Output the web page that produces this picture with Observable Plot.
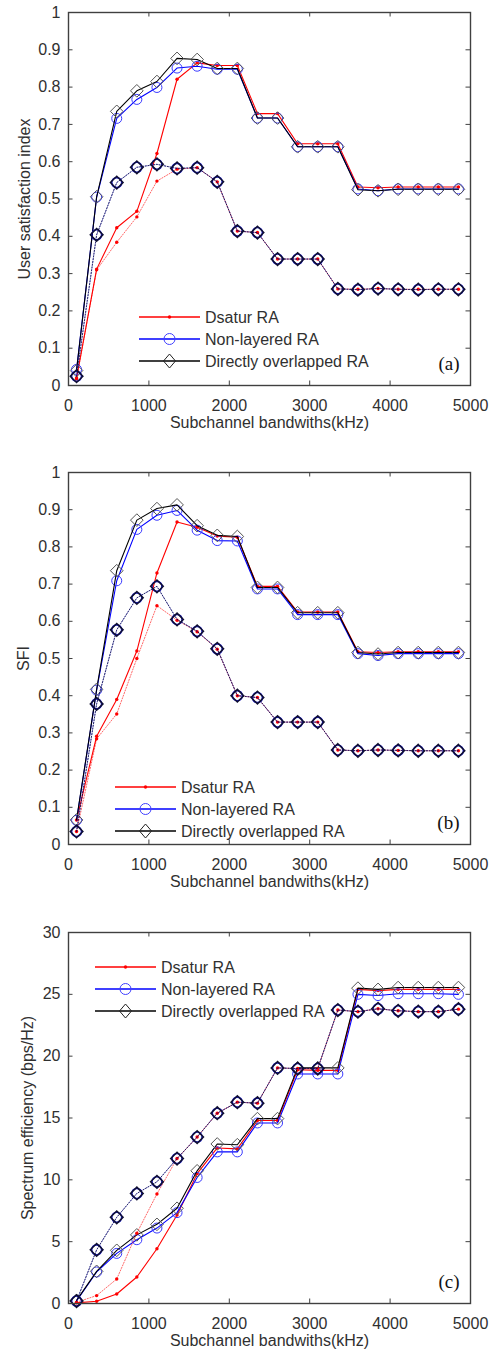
<!DOCTYPE html>
<html>
<head>
<meta charset="utf-8">
<script src="https://cdn.jsdelivr.net/npm/d3@7"></script>
<script src="https://cdn.jsdelivr.net/npm/@observablehq/plot@0.6"></script>
<style>
  body { margin: 0; background: white; }
  #root { width: 494px; height: 1355px; position: relative; }
  #root svg { display: block; }
</style>
</head>
<body>
<div id="root"></div>
<script>
// ---------- data ----------
const bandwidths = [100, 350, 600, 850, 1100, 1350, 1600, 1850, 2100, 2350, 2600, 2850, 3100, 3350, 3600, 3850, 4100, 4350, 4600, 4850];
const xTicks = [0, 1000, 2000, 3000, 4000, 5000];
const seriesNames = ["Dsatur RA", "Non-layered RA", "Directly overlapped RA"];
const xLabel = "Subchannel bandwiths(kHz)";

// (a) User satisfaction index — solid group
const aDsatur      = [0.020, 0.312, 0.423, 0.467, 0.622, 0.821, 0.865, 0.858, 0.858, 0.729, 0.729, 0.648, 0.648, 0.648, 0.532, 0.530, 0.532, 0.532, 0.532, 0.532];
const aNonLayered  = [0.043, 0.505, 0.716, 0.767, 0.799, 0.851, 0.856, 0.848, 0.848, 0.717, 0.717, 0.640, 0.640, 0.640, 0.527, 0.522, 0.527, 0.527, 0.527, 0.527];
const aDirect      = [0.040, 0.506, 0.735, 0.790, 0.815, 0.877, 0.874, 0.850, 0.850, 0.717, 0.717, 0.640, 0.640, 0.640, 0.525, 0.522, 0.526, 0.526, 0.526, 0.526];
// (a) dotted group
const aDsatur2     = [0.018, 0.310, 0.384, 0.452, 0.548, 0.580, 0.584, 0.546, 0.414, 0.410, 0.339, 0.339, 0.339, 0.259, 0.258, 0.260, 0.258, 0.258, 0.258, 0.258];
const aNonLayered2 = [0.025, 0.404, 0.544, 0.585, 0.593, 0.582, 0.584, 0.546, 0.414, 0.410, 0.339, 0.339, 0.339, 0.259, 0.257, 0.260, 0.258, 0.257, 0.258, 0.258];
const aDirect2     = [0.025, 0.404, 0.544, 0.585, 0.593, 0.582, 0.584, 0.546, 0.414, 0.410, 0.339, 0.339, 0.339, 0.259, 0.257, 0.260, 0.258, 0.257, 0.258, 0.258];

// (b) SFI — solid group
const bDsatur      = [0.066, 0.291, 0.390, 0.520, 0.730, 0.867, 0.853, 0.829, 0.826, 0.694, 0.694, 0.625, 0.625, 0.625, 0.518, 0.516, 0.518, 0.518, 0.518, 0.518];
const bNonLayered  = [0.065, 0.415, 0.709, 0.847, 0.885, 0.898, 0.845, 0.817, 0.816, 0.687, 0.687, 0.618, 0.618, 0.618, 0.513, 0.508, 0.513, 0.513, 0.513, 0.513];
const bDirect      = [0.066, 0.417, 0.736, 0.872, 0.903, 0.913, 0.857, 0.831, 0.828, 0.691, 0.691, 0.623, 0.623, 0.623, 0.516, 0.512, 0.516, 0.516, 0.516, 0.516];
// (b) dotted group
const bDsatur2     = [0.035, 0.284, 0.351, 0.500, 0.642, 0.603, 0.572, 0.525, 0.400, 0.395, 0.329, 0.329, 0.329, 0.254, 0.252, 0.254, 0.253, 0.252, 0.252, 0.252];
const bNonLayered2 = [0.035, 0.378, 0.577, 0.663, 0.694, 0.605, 0.573, 0.526, 0.400, 0.395, 0.329, 0.329, 0.329, 0.254, 0.252, 0.254, 0.253, 0.252, 0.252, 0.252];
const bDirect2     = [0.035, 0.378, 0.577, 0.663, 0.694, 0.605, 0.573, 0.526, 0.400, 0.395, 0.329, 0.329, 0.329, 0.254, 0.252, 0.254, 0.253, 0.252, 0.252, 0.252];

// (c) Spectrum efficiency — solid group
const cDsatur      = [0.05, 0.18, 0.77, 2.14, 4.43, 7.16, 10.50, 12.58, 12.50, 14.80, 14.80, 18.90, 18.85, 18.85, 25.40, 25.30, 25.40, 25.40, 25.40, 25.40];
const cNonLayered  = [0.20, 2.55, 4.05, 5.16, 6.10, 7.35, 10.19, 12.26, 12.26, 14.60, 14.60, 18.56, 18.56, 18.56, 25.00, 24.90, 25.05, 25.05, 25.05, 25.00];
const cDirect      = [0.25, 2.60, 4.30, 5.55, 6.40, 7.70, 10.73, 12.90, 12.84, 14.95, 14.95, 19.05, 19.05, 19.05, 25.50, 25.40, 25.55, 25.55, 25.55, 25.55];
// (c) dotted group
const cDsatur2     = [0.10, 0.64, 1.98, 5.69, 8.86, 11.72, 13.46, 15.39, 16.28, 16.20, 19.05, 19.00, 19.00, 23.73, 23.60, 23.83, 23.67, 23.60, 23.60, 23.80];
const cNonLayered2 = [0.20, 4.34, 6.97, 8.90, 9.84, 11.72, 13.46, 15.39, 16.28, 16.20, 19.05, 19.00, 19.00, 23.73, 23.60, 23.83, 23.67, 23.60, 23.60, 23.80];
const cDirect2     = [0.20, 4.34, 6.97, 8.90, 9.84, 11.72, 13.46, 15.39, 16.28, 16.20, 19.05, 19.00, 19.00, 23.73, 23.60, 23.83, 23.67, 23.60, 23.60, 23.80];

const yTicksIndex = [0, 0.1, 0.2, 0.3, 0.4, 0.5, 0.6, 0.7, 0.8, 0.9, 1];
const yTicksSE = [0, 5, 10, 15, 20, 25, 30];

// ---------- drawing ----------
const W = 494, ML = 68, MR = 24;
const FW = W - ML - MR;
const axisColor = "#404040";
const textColor = "#303030";
const sans = "'Liberation Sans', Arial, Helvetica, sans-serif";
const serif = "'Liberation Serif', 'Times New Roman', serif";

const toRows = vals => bandwidths.map((x, i) => ({x, y: vals[i]}));

function seriesMarks(vals, kind, dotted) {
  const rows = toRows(vals);
  const color = kind === 0 ? "#ff0000" : kind === 1 ? "#0000ff" : "#000000";
  const lineOpts = dotted
    ? {x: "x", y: "y", stroke: color, strokeWidth: 0.8, strokeDasharray: "1.2,1.6", strokeOpacity: 0.75}
    : {x: "x", y: "y", stroke: color, strokeWidth: 1.1};
  const marks = [Plot.line(rows, lineOpts)];
  if (kind === 0) {
    marks.push(Plot.dot(rows, {x: "x", y: "y", r: 1.7, fill: "#ff0000", stroke: "none"}));
  } else if (kind === 1) {
    marks.push(Plot.dot(rows, {x: "x", y: "y", r: 5, fill: "none", stroke: dotted ? "#1010c0" : "#3a3aff", strokeWidth: dotted ? 1.6 : 1}));
  } else {
    marks.push(Plot.dot(rows, {x: "x", y: "y", r: 5.7, symbol: "diamond2", fill: "none", stroke: dotted ? "#101030" : "#555555", strokeWidth: dotted ? 1.5 : 1}));
  }
  return marks;
}

function addLegend(svg, x0, y0) {
  const g = d3.select(svg).append("g").attr("text-anchor", "start");
  const colors = ["#ff0000", "#0000ff", "#000000"];
  seriesNames.forEach((name, i) => {
    const y = y0 + i * 22;
    g.append("line").attr("x1", x0).attr("x2", x0 + 61).attr("y1", y).attr("y2", y)
      .attr("stroke", colors[i]).attr("stroke-width", 1.6);
    const cx = x0 + 30.5;
    if (i === 0) {
      g.append("circle").attr("cx", cx).attr("cy", y).attr("r", 1.7).attr("fill", colors[i]);
    } else if (i === 1) {
      g.append("circle").attr("cx", cx).attr("cy", y).attr("r", 5.5).attr("fill", "none").attr("stroke", "#4040ff").attr("stroke-width", 1);
    } else {
      g.append("path").attr("transform", `translate(${cx},${y})`)
        .attr("d", "M0,-7L6,0L0,7L-6,0Z").attr("fill", "none").attr("stroke", "#222").attr("stroke-width", 1);
    }
    g.append("text").attr("x", x0 + 66).attr("y", y).attr("dy", "0.35em")
      .attr("text-anchor", "start")
      .attr("font-family", sans).attr("font-size", 16).attr("fill", textColor).text(name);
  });
}

function panel({height, mt, mb, yDomain, yTicks, yFormat, yLabel, yLabelDx, tag, solid, dotted, legendX, legendY}) {
  const FH = height - mt - mb;
  const marks = [
    Plot.axisX({ticks: xTicks, tickSize: 0, tickPadding: 14, tickFormat: d3.format("d"), label: null, fill: textColor}),
    Plot.axisY({ticks: yTicks, tickSize: 0, tickPadding: 8, tickFormat: yFormat, label: null, fill: textColor}),
    // inward ticks on all four sides
    Plot.ruleX(xTicks, {x: d => d, insetTop: FH - 4.5, stroke: axisColor, strokeWidth: 1}),
    Plot.ruleX(xTicks, {x: d => d, insetBottom: FH - 4.5, stroke: axisColor, strokeWidth: 1}),
    Plot.ruleY(yTicks, {y: d => d, insetRight: FW - 4.5, stroke: axisColor, strokeWidth: 1}),
    Plot.ruleY(yTicks, {y: d => d, insetLeft: FW - 4.5, stroke: axisColor, strokeWidth: 1}),
  ];
  solid.forEach((v, k) => marks.push(...seriesMarks(v, k, false)));
  dotted.forEach((v, k) => marks.push(...seriesMarks(v, k, true)));
  marks.push(
    Plot.frame({stroke: axisColor, strokeWidth: 1.4}),
    Plot.text([xLabel], {frameAnchor: "bottom", dy: 42, fontSize: 16, fill: textColor, fontFamily: sans}),
    Plot.text([yLabel], {frameAnchor: "left", dx: yLabelDx, rotate: -90, textAnchor: "middle", lineAnchor: "middle", fontSize: 16, fill: textColor, fontFamily: sans}),
    Plot.text([tag], {frameAnchor: "bottom-right", dx: -11, dy: -16, textAnchor: "end", fontSize: 19, fill: "#111", fontFamily: serif})
  );
  const svg = Plot.plot({
    width: W, height,
    marginLeft: ML, marginRight: MR, marginTop: mt, marginBottom: mb,
    x: {domain: [0, 5000]},
    y: {domain: yDomain},
    style: {fontFamily: sans, fontSize: "16px", color: textColor, background: "white", overflow: "visible"},
    marks
  });
  addLegend(svg, legendX, legendY);
  return svg;
}

const fmtIndex = d3.format("~g");
const root = document.getElementById("root");

root.appendChild(panel({
  height: 440, mt: 12, mb: 55, yDomain: [0, 1], yTicks: yTicksIndex, yFormat: fmtIndex,
  yLabel: "User satisfaction index", yLabelDx: -44, tag: "(a)",
  solid: [aDsatur, aNonLayered, aDirect], dotted: [aDsatur2, aNonLayered2, aDirect2],
  legendX: 139, legendY: 317
}));
root.appendChild(panel({
  height: 460, mt: 32, mb: 56, yDomain: [0, 1], yTicks: yTicksIndex, yFormat: fmtIndex,
  yLabel: "SFI", yLabelDx: -45, tag: "(b)",
  solid: [bDsatur, bNonLayered, bDirect], dotted: [bDsatur2, bNonLayered2, bDirect2],
  legendX: 115, legendY: 347
}));
root.appendChild(panel({
  height: 455, mt: 32, mb: 52, yDomain: [0, 30], yTicks: yTicksSE, yFormat: d3.format("d"),
  yLabel: "Spectrum efficiency (bps/Hz)", yLabelDx: -41, tag: "(c)",
  solid: [cDsatur, cNonLayered, cDirect], dotted: [cDsatur2, cNonLayered2, cDirect2],
  legendX: 95, legendY: 67
}));
</script>
</body>
</html>
